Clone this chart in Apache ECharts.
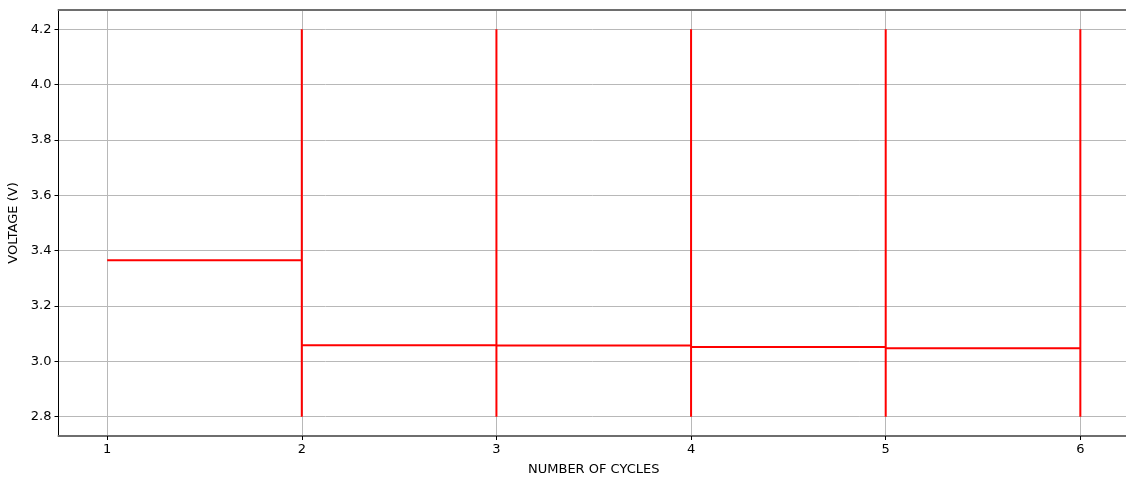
<!DOCTYPE html>
<html>
<head>
<meta charset="utf-8">
<script src="https://cdn.jsdelivr.net/npm/echarts@6/dist/echarts.min.js"></script>
<style>
  html, body { margin: 0; padding: 0; background: #fff; }
  #chart { width: 1126px; height: 478px; }
</style>
</head>
<body>
<div id="chart"></div>
<script>
// Cycle numbers and the resting voltage reached in each cycle
const cycles = [1, 2, 3, 4, 5, 6];
const restVoltage = [3.365, 3.058, 3.057, 3.052, 3.047];
// Voltage window swept at each cycle boundary
const vMin = 2.8;
const vMax = 4.2;
const xTicks = [1, 2, 3, 4, 5, 6];
const yTicks = [2.8, 3.0, 3.2, 3.4, 3.6, 3.8, 4.0, 4.2];

// Build the trace: a flat rest segment per cycle, then a full sweep at the boundary
const trace = [];
for (let i = 0; i < restVoltage.length; i++) {
  const start = cycles[i];
  const end = cycles[i + 1];
  if (i > 0) {
    trace.push([start, vMin]);
    trace.push([start, vMax]);
  }
  trace.push([start, restVoltage[i]]);
  trace.push([end, restVoltage[i]]);
}
const last = cycles[cycles.length - 1];
trace.push([last, vMin]);
trace.push([last, vMax]);

const font = 'DejaVu Sans';
const chart = echarts.init(document.getElementById('chart'));
chart.setOption({
  animation: false,
  grid: { left: 58.5, right: -3, top: 10, bottom: 42, containLabel: false, outerBoundsMode: 'none' },
  xAxis: [{
    type: 'value',
    min: 0.75, max: 6.25,
    name: 'NUMBER OF CYCLES',
    nameLocation: 'middle',
    nameGap: 27,
    nameTextStyle: { fontFamily: font, fontSize: 13, color: '#000' },
    axisLine: { show: true, onZero: false, lineStyle: { color: '#6e6e6e', width: 2 } },
    axisTick: { show: true, length: 4, lineStyle: { color: '#000', width: 1 }, customValues: xTicks },
    axisLabel: { fontFamily: font, fontSize: 13, color: '#000', margin: 7, customValues: xTicks },
    splitLine: { show: true, lineStyle: { color: '#b8b8b8', width: 1 } }
  }, {
    type: 'value',
    position: 'top',
    min: 0.75, max: 6.25,
    axisLine: { show: true, onZero: false, lineStyle: { color: '#6e6e6e', width: 2 } },
    axisTick: { show: false },
    axisLabel: { show: false },
    splitLine: { show: false }
  }],
  yAxis: {
    type: 'value',
    min: 2.73, max: 4.27,
    name: 'VOLTAGE (V)',
    nameLocation: 'middle',
    nameGap: 31,
    nameTextStyle: { fontFamily: font, fontSize: 13, color: '#000' },
    axisLine: { show: true, onZero: false, lineStyle: { color: '#000', width: 1 } },
    axisTick: { show: true, length: 4, lineStyle: { color: '#000', width: 1 }, customValues: yTicks },
    axisLabel: {
      fontFamily: font, fontSize: 13, color: '#000', margin: 7,
      customValues: yTicks,
      formatter: v => v.toFixed(1)
    },
    splitLine: { show: true, lineStyle: { color: '#b8b8b8', width: 1 } }
  },
  series: [{
    type: 'line',
    xAxisIndex: 0,
    data: trace,
    showSymbol: false,
    lineStyle: { color: '#ff0000', width: 2 },
    z: 5
  }]
});
</script>
</body>
</html>
